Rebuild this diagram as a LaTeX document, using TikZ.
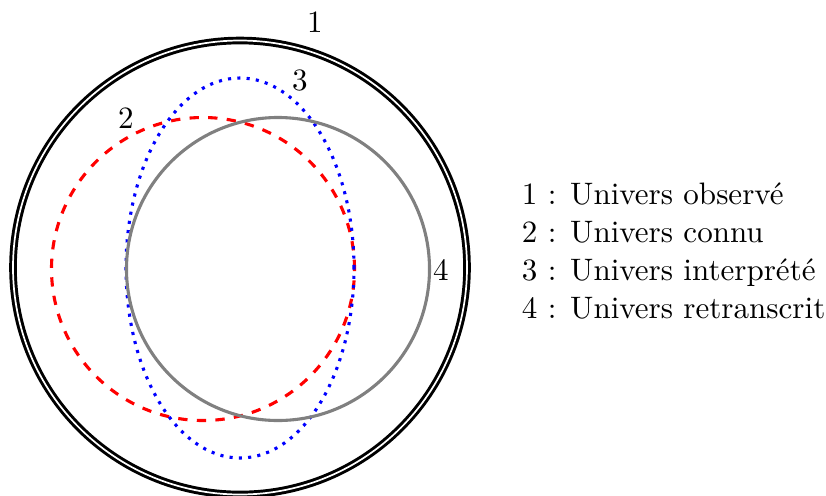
\documentclass[tikz,border=0pt]{standalone}
\usepackage{fontspec}
\begin{document}
\begin{tikzpicture}[x=0.01132cm, y=0.01132cm]

% ===== Cadre =====
\useasboundingbox (-240,-227.5) rectangle (586,267.5);

% ===== Les quatre univers =====
\draw[line width=0.95pt, double, double distance=0.55pt] (0,0) circle (227);
\draw[line width=1pt, red, dashed] (-37,-1.5) circle (151.5);
\draw[line width=1pt, blue, dotted] (0,-0.5) ellipse (114 and 190);
\draw[line width=1pt, gray] (38,-1.5) circle (151.5);

% ===== Numéros =====
\node (n1) at (75,245.5) {1};
\node (n2) at (-114,149.5) {2};
\node (n3) at (60,187.5) {3};
\node (n4) at (201,-2.5) {4};

% ===== Légende =====
\node[anchor=base west] (leg1) at (271,63.5) {1 : Univers observé};
\node[anchor=base west] (leg2) at (271,25.2) {2 : Univers connu};
\node[anchor=base west] (leg3) at (271,-13.1) {3 : Univers interprété};
\node[anchor=base west] (leg4) at (271,-51.4) {4 : Univers retranscrit};

\end{tikzpicture}
\end{document}
